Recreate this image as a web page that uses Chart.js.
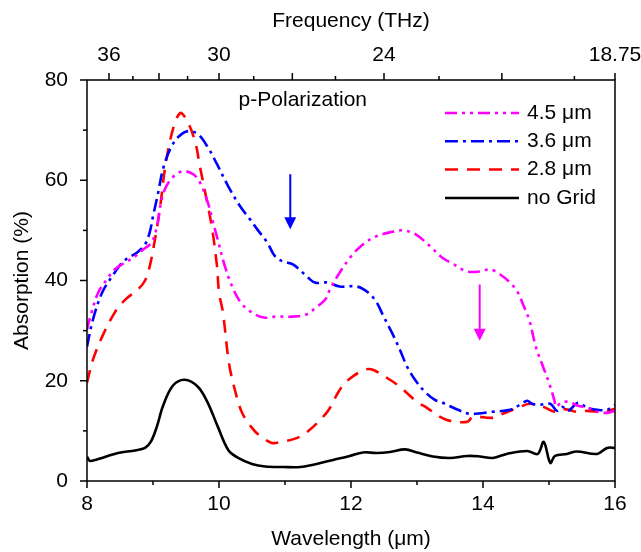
<!DOCTYPE html>
<html>
<head>
<meta charset="utf-8">
<script src="https://cdn.jsdelivr.net/npm/chart.js@4.4.1/dist/chart.umd.min.js"></script>
<style>
  html, body { margin: 0; padding: 0; background: #fff; }
</style>
</head>
<body>
<canvas id="chart" width="641" height="552"></canvas>
<script>
// values: wavelength (um) vs absorption (%)
const wl45 = [8.00, 8.05, 8.17, 8.30, 8.42, 8.58, 8.73, 8.85, 8.98, 9.06, 9.11, 9.18, 9.30, 9.45, 9.61, 9.71, 9.83, 9.91, 9.98, 10.09, 10.20, 10.33, 10.50, 10.68, 10.86, 11.12, 11.32, 11.47, 11.61, 11.68, 11.83, 12.00, 12.18, 12.38, 12.59, 12.79, 12.98, 13.20, 13.38, 13.56, 13.76, 13.95, 14.11, 14.26, 14.41, 14.52, 14.62, 14.70, 14.80, 14.91, 15.00, 15.08, 15.11, 15.18, 15.30, 15.44, 15.59, 15.73, 15.88, 16.00];
const abs45 = [30.2, 32.8, 37.6, 40.2, 42.2, 43.6, 44.8, 46.2, 47.6, 50.8, 54.8, 58.2, 60.6, 61.8, 61.2, 59.6, 55.6, 51.6, 48.2, 42.8, 38.8, 35.6, 33.6, 32.6, 32.8, 32.8, 33.2, 34.6, 36.2, 38.2, 41.6, 44.8, 47.2, 48.8, 49.6, 50.0, 49.2, 46.8, 44.6, 43.2, 41.8, 41.8, 42.2, 41.2, 39.6, 37.8, 34.8, 32.2, 26.8, 22.8, 19.6, 16.2, 14.8, 15.6, 15.8, 15.0, 14.6, 13.8, 13.6, 14.0];

const wl36 = [8.00, 8.09, 8.23, 8.38, 8.55, 8.76, 8.88, 8.95, 9.00, 9.08, 9.15, 9.26, 9.38, 9.53, 9.68, 9.83, 9.97, 10.14, 10.32, 10.47, 10.58, 10.73, 10.85, 10.97, 11.12, 11.30, 11.45, 11.64, 11.83, 12.09, 12.26, 12.39, 12.48, 12.62, 12.74, 12.85, 12.97, 13.12, 13.27, 13.39, 13.62, 13.80, 14.14, 14.41, 14.56, 14.67, 14.74, 14.86, 15.02, 15.12, 15.20, 15.29, 15.44, 15.58, 15.73, 15.88, 16.00];
const abs36 = [26.8, 32.2, 37.6, 40.8, 43.8, 45.6, 47.2, 49.6, 52.8, 57.6, 62.2, 66.2, 68.6, 69.8, 69.2, 66.6, 63.2, 58.8, 54.8, 52.2, 50.2, 47.6, 44.8, 43.8, 43.2, 41.2, 39.6, 39.6, 38.8, 38.8, 37.6, 35.6, 33.2, 29.6, 26.2, 22.8, 20.2, 17.8, 16.2, 15.6, 14.2, 13.4, 13.8, 14.2, 15.2, 16.0, 15.4, 15.2, 15.4, 14.0, 14.8, 14.0, 15.6, 14.6, 14.2, 14.2, 15.2];

const wl28 = [8.00, 8.09, 8.23, 8.42, 8.58, 8.77, 8.88, 8.95, 9.03, 9.11, 9.18, 9.29, 9.41, 9.52, 9.64, 9.71, 9.79, 9.89, 9.97, 10.00, 10.06, 10.15, 10.24, 10.35, 10.50, 10.62, 10.80, 10.94, 11.14, 11.32, 11.64, 11.83, 11.98, 12.21, 12.33, 12.59, 12.74, 13.00, 13.15, 13.35, 13.50, 13.76, 13.85, 14.14, 14.26, 14.53, 14.71, 14.91, 15.09, 15.21, 15.42, 15.58, 15.82, 16.00];
const abs28 = [19.6, 24.2, 28.8, 33.6, 36.2, 38.2, 40.0, 42.8, 48.2, 54.8, 62.2, 69.6, 73.4, 71.8, 67.6, 62.8, 57.6, 50.8, 42.8, 37.6, 33.6, 23.6, 18.2, 13.6, 10.6, 9.0, 7.6, 7.8, 8.4, 9.6, 13.8, 18.2, 20.4, 22.2, 22.2, 20.2, 18.8, 15.8, 14.6, 12.8, 12.0, 11.8, 12.8, 12.6, 13.2, 14.6, 15.4, 14.8, 13.8, 14.4, 13.8, 14.0, 13.8, 14.4];

const wlNoGrid = [8.00, 8.05, 8.27, 8.47, 8.73, 8.88, 8.97, 9.06, 9.15, 9.30, 9.48, 9.68, 9.83, 9.98, 10.14, 10.29, 10.50, 10.70, 10.97, 11.23, 11.48, 11.73, 11.98, 12.18, 12.39, 12.59, 12.82, 13.00, 13.24, 13.50, 13.76, 13.95, 14.15, 14.36, 14.67, 14.83, 14.92, 15.02, 15.09, 15.27, 15.42, 15.73, 15.88, 16.00];
const absNoGrid = [4.8, 4.0, 4.8, 5.6, 6.1, 6.6, 7.9, 10.9, 14.9, 19.0, 20.2, 18.8, 15.6, 10.9, 6.2, 4.6, 3.4, 2.9, 2.8, 2.8, 3.4, 4.2, 5.0, 5.7, 5.6, 5.8, 6.3, 5.7, 4.9, 4.6, 5.0, 4.9, 4.6, 5.4, 6.0, 5.4, 7.8, 3.6, 5.0, 5.4, 5.9, 5.4, 6.6, 6.6];

const seriesLabels = ['4.5 \u03bcm', '3.6 \u03bcm', '2.8 \u03bcm', 'no Grid'];

// top axis: frequency in THz (lambda = 300 / f)
const freqMajor = [36, 33, 30, 27, 24, 21, 18.75];
const freqLabels = ['36', '', '30', '', '24', '', '18.75'];
const freqMinor = [34.5, 31.5, 28.5, 25.5, 22.5, 19.5];
const wlMinor = [9, 11, 13, 15];
const absMinor = [10, 30, 50, 70];

const FONT = "'Liberation Sans', Arial, sans-serif";
const pts = (xs, ys) => xs.map((x, i) => ({ x: x, y: ys[i] }));

const datasets = [
  { label: seriesLabels[0], data: pts(wl45, abs45), borderColor: '#ff00ff', borderDash: [12, 5, 3, 5, 3, 5] },
  { label: seriesLabels[1], data: pts(wl36, abs36), borderColor: '#0000ff', borderDash: [13, 5, 3, 5] },
  { label: seriesLabels[2], data: pts(wl28, abs28), borderColor: '#ff0000', borderDash: [13, 9] },
  { label: seriesLabels[3], data: pts(wlNoGrid, absNoGrid), borderColor: '#000000', borderDash: [] }
];

const tickOpts = { color: '#000', font: { family: FONT, size: 21 } };
const titleFont = { family: FONT, size: 21 };
const hiddenGrid = { display: true, drawOnChartArea: false, drawTicks: true, tickLength: 7, tickColor: 'rgba(0,0,0,0)', color: 'rgba(0,0,0,0)' };

const drawArrow = (ctx, x, y0, y1, color) => {
  ctx.strokeStyle = color;
  ctx.fillStyle = color;
  ctx.lineWidth = 2;
  ctx.setLineDash([]);
  ctx.beginPath();
  ctx.moveTo(x, y0);
  ctx.lineTo(x, y1 - 10);
  ctx.stroke();
  ctx.beginPath();
  ctx.moveTo(x - 6, y1 - 12);
  ctx.lineTo(x + 6, y1 - 12);
  ctx.lineTo(x, y1);
  ctx.closePath();
  ctx.fill();
};

const framePlugin = {
  id: 'frame',
  afterDraw(chart) {
    const { ctx, chartArea: a, scales } = chart;
    ctx.save();
    ctx.strokeStyle = '#000';
    ctx.lineWidth = 1.5;
    ctx.setLineDash([]);
    ctx.strokeRect(a.left, a.top, a.right - a.left, a.bottom - a.top);

    const vTick = (px, yBase, len) => { ctx.beginPath(); ctx.moveTo(px, yBase); ctx.lineTo(px, yBase + len); ctx.stroke(); };
    const hTick = (py, len) => { ctx.beginPath(); ctx.moveTo(a.left, py); ctx.lineTo(a.left - len, py); ctx.stroke(); };

    scales.x.ticks.forEach(t => vTick(scales.x.getPixelForValue(t.value), a.bottom, 7));
    wlMinor.forEach(v => vTick(scales.x.getPixelForValue(v), a.bottom, 4));
    freqMajor.forEach(f => vTick(scales.xTop.getPixelForValue(300 / f), a.top, -7));
    freqMinor.forEach(f => vTick(scales.xTop.getPixelForValue(300 / f), a.top, -4));
    scales.y.ticks.forEach(t => hTick(scales.y.getPixelForValue(t.value), 7));
    absMinor.forEach(v => hTick(scales.y.getPixelForValue(v), 4));

    // annotation text and arrows
    ctx.fillStyle = '#000';
    ctx.font = '21px ' + FONT;
    ctx.textAlign = 'center';
    ctx.textBaseline = 'middle';
    ctx.fillText('p-Polarization', scales.x.getPixelForValue(11.27), scales.y.getPixelForValue(76));
    drawArrow(ctx, scales.x.getPixelForValue(11.08), scales.y.getPixelForValue(61.2), scales.y.getPixelForValue(50.2), '#0000ff');
    drawArrow(ctx, scales.x.getPixelForValue(13.95), scales.y.getPixelForValue(39.2), scales.y.getPixelForValue(28), '#ff00ff');

    // legend
    const lx = a.right - 170, ly = a.top + 33, row = 28.3;
    chart.data.datasets.forEach((ds, i) => {
      const y = ly + i * row;
      ctx.strokeStyle = ds.borderColor;
      ctx.lineWidth = 2.5;
      ctx.setLineDash(ds.borderDash);
      ctx.beginPath();
      ctx.moveTo(lx, y);
      ctx.lineTo(lx + 74, y);
      ctx.stroke();
      ctx.setLineDash([]);
      ctx.fillStyle = '#000';
      ctx.textAlign = 'left';
      ctx.fillText(ds.label, lx + 82, y);
    });
    ctx.restore();
  }
};

const noSideMargins = s => { s.paddingLeft = 0; s.paddingRight = 0; };

new Chart(document.getElementById('chart'), {
  type: 'line',
  data: { datasets: datasets },
  plugins: [framePlugin],
  options: {
    responsive: false,
    animation: false,
    devicePixelRatio: 1,
    layout: { padding: { left: 0, right: 26, top: 0, bottom: 0 } },
    plugins: { legend: { display: false }, tooltip: { enabled: false } },
    elements: {
      point: { radius: 0 },
      line: { borderWidth: 2.6, tension: 0.35, fill: false, borderCapStyle: 'butt' }
    },
    scales: {
      x: {
        type: 'linear', position: 'bottom', min: 8, max: 16,
        ticks: Object.assign({ stepSize: 2, padding: 4 }, tickOpts),
        grid: hiddenGrid, border: { display: false },
        title: { display: true, text: 'Wavelength (\u03bcm)', color: '#000', font: titleFont, padding: { top: 0, bottom: 0 } },
        afterFit: s => { s.height = 71; noSideMargins(s); }
      },
      xTop: {
        type: 'linear', position: 'top', min: 8, max: 16,
        afterBuildTicks: s => { s.ticks = freqMajor.map(f => ({ value: 300 / f })); },
        ticks: Object.assign({ autoSkip: false, maxRotation: 0, padding: 5, callback: (v, i) => freqLabels[i] }, tickOpts),
        grid: hiddenGrid, border: { display: false },
        title: { display: true, text: 'Frequency (THz)', color: '#000', font: titleFont, padding: { top: 9, bottom: 0 } },
        afterFit: s => { s.height = 80; noSideMargins(s); }
      },
      y: {
        type: 'linear', position: 'left', min: 0, max: 80,
        ticks: Object.assign({ stepSize: 20, padding: 12 }, tickOpts),
        grid: hiddenGrid, border: { display: false },
        title: { display: true, text: 'Absorption (%)', color: '#000', font: titleFont, padding: { top: 10, bottom: 0 } },
        afterFit: s => { s.width = 87; }
      }
    }
  }
});
</script>
</body>
</html>
